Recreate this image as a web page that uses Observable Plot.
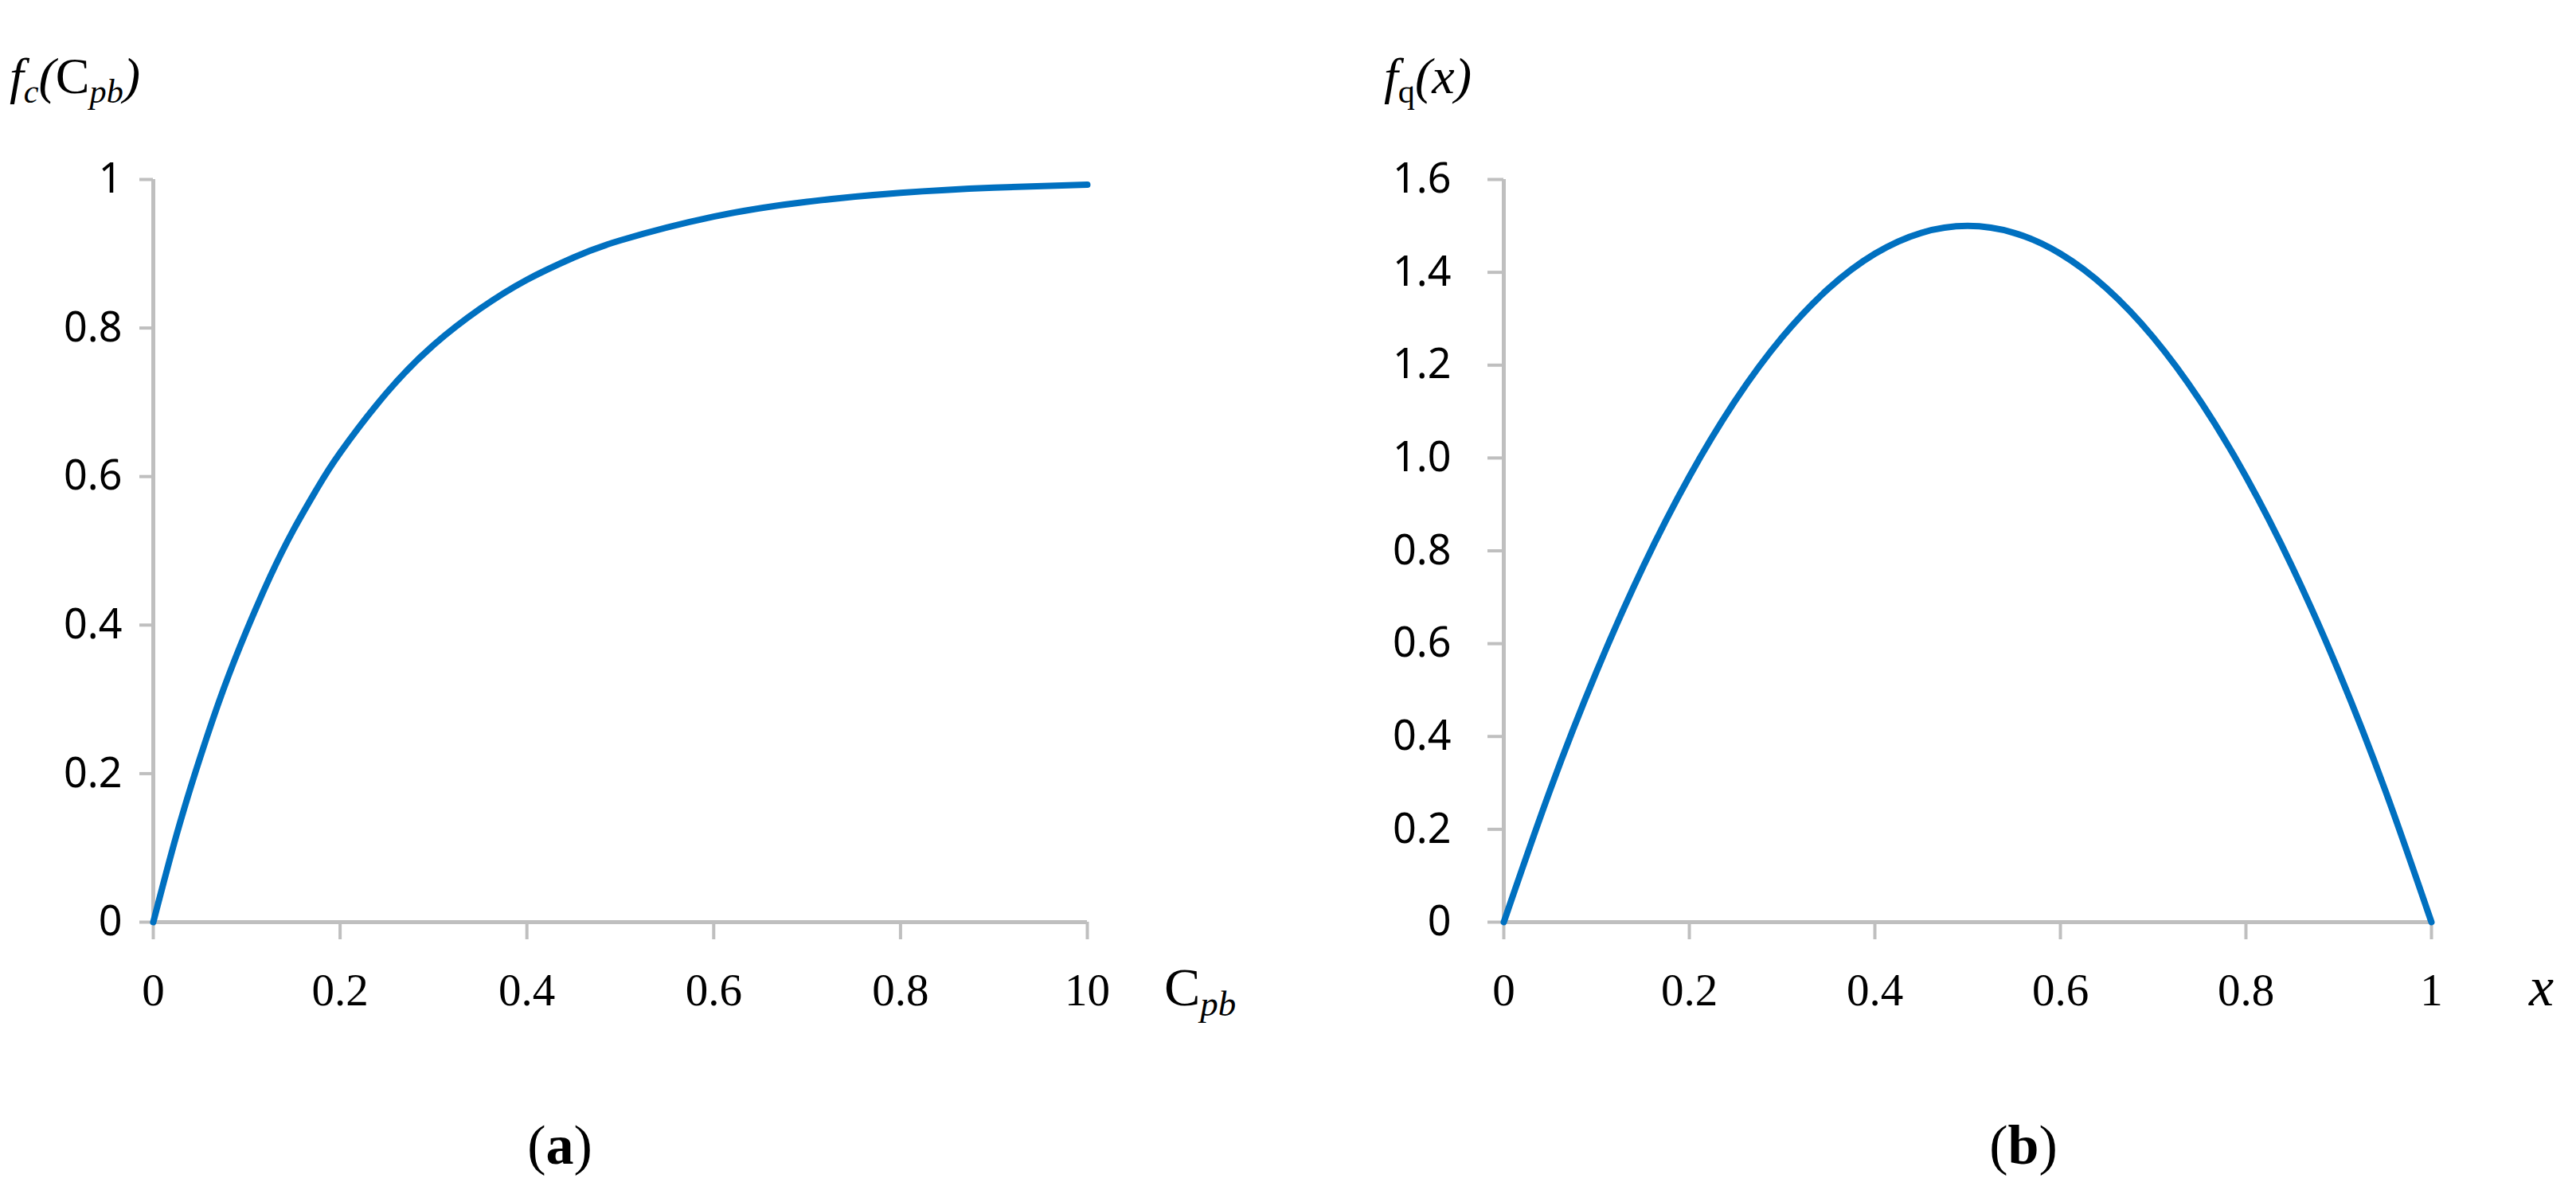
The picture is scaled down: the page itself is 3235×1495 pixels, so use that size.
<!DOCTYPE html>
<html><head><meta charset="utf-8">
<script src="https://cdn.jsdelivr.net/npm/d3@7"></script>
<script src="https://cdn.jsdelivr.net/npm/@observablehq/plot@0.6"></script>
<style>
html,body{margin:0;padding:0;background:#fff;}
#root{position:relative;width:3235px;height:1495px;overflow:hidden;background:#fff;}
.lbl{position:absolute;font-family:"Liberation Serif","Times New Roman",serif;color:#000;white-space:nowrap;line-height:1;}
.lbl sub{font-size:0.66em;vertical-align:-0.28em;line-height:0;}
.panel{position:absolute;top:0;}
.ctr{transform:translateX(-50%);}
</style></head><body>
<div id="root">
  <div id="pa" class="panel" style="left:0px"></div>
  <div id="pb" class="panel" style="left:1700px"></div>
  <div class="lbl" style="left:12px;top:64px;font-size:64px;"><i>f</i><sub><i>c</i></sub><i>(</i>C<sub><i>pb</i></sub><i>)</i></div>
  <div class="lbl" style="left:1462px;top:1206px;font-size:68px;">C<sub><i>pb</i></sub></div>
  <div class="lbl" style="left:1738px;top:64px;font-size:64px;"><i>f</i><sub>q</sub><i>(x)</i></div>
  <div class="lbl" style="left:3176px;top:1205px;font-size:70px;"><i>x</i></div>
  <div class="lbl ctr" style="left:703px;top:1404px;font-size:70px;">(<b>a</b>)</div>
  <div class="lbl ctr" style="left:2541px;top:1404px;font-size:70px;">(<b>b</b>)</div>
</div>
<script>
// Panel (a): f_c(C_pb)
const fcX = [0, 0.025, 0.05, 0.075, 0.1, 0.125, 0.15, 0.175, 0.2, 0.25, 0.3, 0.35, 0.4, 0.45, 0.5, 0.6, 0.7, 0.8, 0.9, 1.0];
const fcY = [0, 0.118, 0.221, 0.313, 0.393, 0.465, 0.528, 0.583, 0.632, 0.713, 0.777, 0.826, 0.865, 0.895, 0.918, 0.95, 0.97, 0.982, 0.989, 0.993];
// Panel (b): f_q(x)
const fqX = [0, 0.05, 0.1, 0.15, 0.2, 0.25, 0.3, 0.35, 0.4, 0.45, 0.5, 0.55, 0.6, 0.65, 0.7, 0.75, 0.8, 0.85, 0.9, 0.95, 1.0];
const fqY = [0, 0.285, 0.54, 0.765, 0.96, 1.125, 1.26, 1.365, 1.44, 1.485, 1.5, 1.485, 1.44, 1.365, 1.26, 1.125, 0.96, 0.765, 0.54, 0.285, 0];

const xTicks = [0, 0.2, 0.4, 0.6, 0.8, 1];
const xLabelsA = ["0", "0.2", "0.4", "0.6", "0.8", "10"];
const xLabelsB = ["0", "0.2", "0.4", "0.6", "0.8", "1"];
const yTicksA = [0, 0.2, 0.4, 0.6, 0.8, 1];
const yLabelsA = ["0", "0.2", "0.4", "0.6", "0.8", "1"];
const yTicksB = [0, 0.2, 0.4, 0.6, 0.8, 1.0, 1.2, 1.4, 1.6];
const yLabelsB = ["0", "0.2", "0.4", "0.6", "0.8", "1.0", "1.2", "1.4", "1.6"];

const AXIS = "#bfbfbf";
const LINE = "#0070C0";
const yFont = "'Noto Sans', 'DejaVu Sans', sans-serif";
const xFont = "'Liberation Serif', 'Times New Roman', serif";

function fmt(ticks, labels) {
  const m = new Map(ticks.map((t, i) => [t, labels[i]]));
  return d => m.get(d) ?? "";
}

function panel(opts) {
  const data = opts.xs.map((x, i) => ({x, y: opts.ys[i]}));
  return Plot.plot({
    width: opts.width, height: 1300,
    marginLeft: opts.marginLeft, marginRight: opts.marginRight, marginTop: 225, marginBottom: 142,
    x: {domain: [0, 1]},
    y: {domain: opts.yDomain},
    style: {background: "transparent", overflow: "visible"},
    marks: [
      Plot.axisY(opts.yTicks, {tickSize: opts.yTickSize, tickPadding: opts.yPad, stroke: AXIS, strokeWidth: 4,
        fill: "#000", fontFamily: yFont, fontSize: 52, tickFormat: fmt(opts.yTicks, opts.yLabels), label: null}),
      Plot.axisX(xTicks, {tickSize: 22, tickPadding: 42, stroke: AXIS, strokeWidth: 4,
        fill: "#000", fontFamily: xFont, fontSize: 57, tickFormat: fmt(xTicks, opts.xLabels), label: null}),
      Plot.ruleX([0], {stroke: AXIS, strokeWidth: 5}),
      Plot.ruleY([0], {stroke: AXIS, strokeWidth: 5}),
      Plot.line(data, {x: "x", y: "y", stroke: LINE, strokeWidth: 8, curve: "natural"})
    ]
  });
}

document.getElementById("pa").append(panel({
  xs: fcX, ys: fcY, width: 1420, marginLeft: 192, marginRight: 55, yDomain: [0, 1],
  yTicks: yTicksA, yLabels: yLabelsA, xLabels: xLabelsA, yTickSize: 17, yPad: 22
}));
document.getElementById("pb").append(panel({
  xs: fqX, ys: fqY, width: 1413, marginLeft: 188, marginRight: 60, yDomain: [0, 1.6],
  yTicks: yTicksB, yLabels: yLabelsB, xLabels: xLabelsB, yTickSize: 20, yPad: 46
}));
</script>
</body></html>
